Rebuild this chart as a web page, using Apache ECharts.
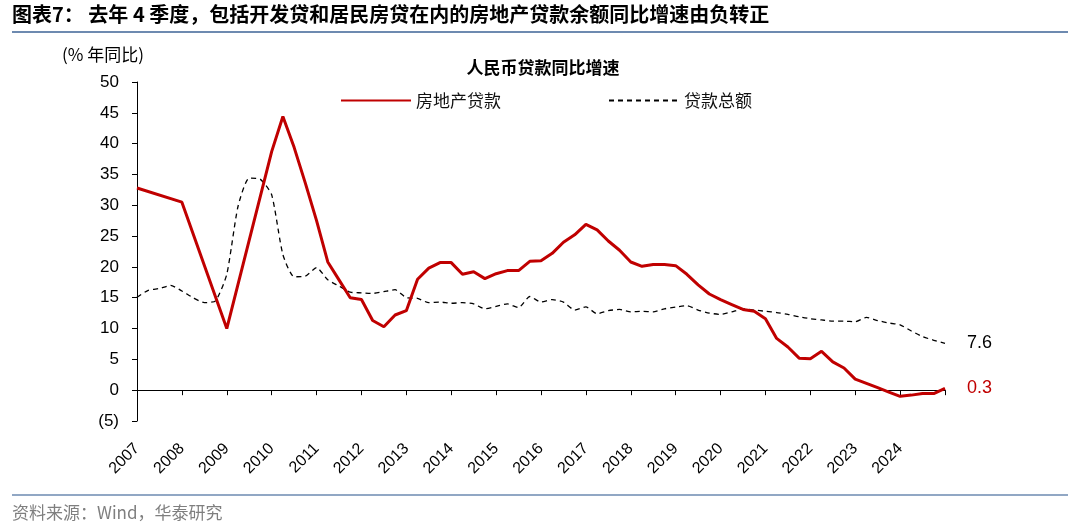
<!DOCTYPE html>
<html>
<head>
<meta charset="utf-8">
<script src="https://cdn.jsdelivr.net/npm/echarts@6/dist/echarts.min.js"></script>
<style>
html,body{margin:0;padding:0;background:#fff;}
#main{width:1080px;height:528px;}
</style>
</head>
<body>
<div id="main"></div>
<script>
// ---- Data ----
const chartTitle = '图表7： 去年 4 季度，包括开发贷和居民房贷在内的房地产贷款余额同比增速由负转正';
const subTitle = '人民币贷款同比增速';
const sourceText = '资料来源：Wind，华泰研究';
const yAxisName = '(% 年同比)';
const seriesNames = ['房地产贷款', '贷款总额'];

// quarter-end categories, 2006Q4 .. 2024Q4
const quarters = ['2006Q4'];
for (let y = 2007; y <= 2024; y++) { for (let q = 1; q <= 4; q++) { quarters.push(y + 'Q' + q); } }

const yearLabels = ['2007','2008','2009','2010','2011','2012','2013','2014','2015',
  '2016','2017','2018','2019','2020','2021','2022','2023','2024'];

// 房地产贷款 (annual until 2009, quarterly afterwards)
const realEstateLoans = [
  32.8, null, null, null,
  30.5, null, null, null,
  10.0, null, null, null,
  38.7, 44.4, 39.4, 33.6,
  27.5, 20.8, 17.9, 15.0,
  14.7, 11.3, 10.3, 12.2,
  12.9, 18.0, 19.8, 20.7,
  20.7, 18.8, 19.2, 18.1,
  18.9, 19.4, 19.4, 20.9,
  21.0, 22.2, 24.0, 25.2,
  26.9, 26.0, 24.2, 22.7,
  20.8, 20.1, 20.4, 20.4,
  20.2, 18.8, 17.1, 15.6,
  14.7, 13.9, 13.1, 12.8,
  11.6, 8.4, 7.0, 5.2,
  5.1, 6.3, 4.6, 3.6,
  1.8, 1.1, 0.4, -0.3,
  -1.0, -0.8, -0.55, -0.55,
  0.3
];

// 贷款总额
const totalLoans = [
  15.1, 16.2, 16.5, 17.0,
  16.1, 15.0, 14.2, 14.5,
  18.8, 29.8, 34.4, 34.2,
  31.7, 22.0, 18.4, 18.5,
  19.9, 17.9, 16.9, 15.9,
  15.8, 15.7, 16.0, 16.3,
  15.0, 14.9, 14.2, 14.3,
  14.1, 14.2, 14.0, 13.2,
  13.6, 14.0, 13.4, 15.2,
  14.3, 14.7, 14.3, 13.0,
  13.5, 12.4, 12.9, 13.1,
  12.7, 12.8, 12.7, 13.2,
  13.5, 13.7, 13.0, 12.5,
  12.3, 12.7, 13.2, 13.0,
  12.8, 12.6, 12.3, 11.9,
  11.6, 11.4, 11.2, 11.2,
  11.1, 11.8, 11.3, 10.9,
  10.6, 9.6, 8.7, 8.1,
  7.6
];

// ---- Chart ----
const RED = '#C00000';
const CJK = '"Noto Sans CJK SC", "Noto Sans", sans-serif';
const LAT = '"Liberation Sans", Arial, sans-serif';
const chart = echarts.init(document.getElementById('main'), null, {renderer: 'canvas'});

const legendBase = {
  top: 92, padding: 0, itemWidth: 70, itemHeight: 14,
  itemStyle: { opacity: 0 },
  textStyle: { fontFamily: CJK, fontSize: 17, color: '#111' }
};

const option = {
  backgroundColor: '#ffffff',
  animation: false,
  title: [
    { text: chartTitle, left: 12, top: 4, padding: 0,
      textStyle: { fontFamily: CJK, fontSize: 20, fontWeight: 'bold', color: '#000' } },
    { text: subTitle, left: 543, top: 59, padding: 0, textAlign: 'center',
      textStyle: { fontFamily: CJK, fontSize: 17, fontWeight: 'bold', color: '#000' } },
    { text: yAxisName, left: 62, top: 46, padding: 0,
      textStyle: { fontFamily: CJK, fontSize: 17, fontWeight: 'normal', color: '#000' } },
    { text: sourceText, left: 12, top: 504, padding: 0,
      textStyle: { fontFamily: CJK, fontSize: 17, fontWeight: 'normal', color: '#7f7f7f' } }
  ],
  legend: [
    Object.assign({}, legendBase, { data: [seriesNames[0]], left: 340 }),
    Object.assign({}, legendBase, { data: [seriesNames[1]], left: 608 })
  ],
  grid: { left: 137, right: 135, top: 82, bottom: 107, containLabel: false },
  xAxis: {
    type: 'category',
    data: quarters,
    boundaryGap: false,
    axisLine: { onZero: true, lineStyle: { color: '#000', width: 1 } },
    axisTick: { show: true, inside: false, length: 5, interval: (i) => i % 4 === 0,
      lineStyle: { color: '#000' } },
    axisLabel: {
      interval: (i) => i % 4 === 0 && i / 4 < yearLabels.length,
      rotate: 45, margin: 25,
      fontFamily: LAT, fontSize: 16, color: '#000',
      formatter: (v, i) => (i % 4 === 0 && i / 4 < yearLabels.length) ? yearLabels[i / 4] : ''
    },
    splitLine: { show: false }
  },
  yAxis: {
    type: 'value', min: -5, max: 50, interval: 5,
    axisLine: { show: true, lineStyle: { color: '#000', width: 1 } },
    axisTick: { show: true, inside: false, length: 5, lineStyle: { color: '#000' } },
    axisLabel: { margin: 18, fontFamily: LAT, fontSize: 17, color: '#000',
      formatter: (v) => v < 0 ? '(' + (-v) + ')' : String(v) },
    splitLine: { show: false }
  },
  series: [
    {
      name: seriesNames[1], type: 'line', data: totalLoans, z: 2,
      symbol: 'none', showSymbol: false, smooth: 0.2,
      color: '#000',
      lineStyle: { color: '#000', width: 1.3, type: [5, 4] },
      endLabel: { show: true, distance: 22, fontFamily: LAT, fontSize: 18, color: '#000',
        formatter: (p) => String(p.value) }
    },
    {
      name: seriesNames[0], type: 'line', data: realEstateLoans, z: 3,
      symbol: 'none', showSymbol: false, connectNulls: true,
      color: RED,
      lineStyle: { color: RED, width: 3 },
      endLabel: { show: true, distance: 22, fontFamily: LAT, fontSize: 18, color: RED,
        formatter: (p) => String(p.value) }
    }
  ],
  graphic: [
    { type: 'line', shape: { x1: 12, y1: 32, x2: 1068, y2: 32 },
      style: { stroke: '#6d8ab0', lineWidth: 2 }, silent: true },
    { type: 'line', shape: { x1: 12, y1: 495, x2: 1068, y2: 495 },
      style: { stroke: '#6d8ab0', lineWidth: 1.5 }, silent: true }
  ]
};
chart.setOption(option);
</script>
</body>
</html>
